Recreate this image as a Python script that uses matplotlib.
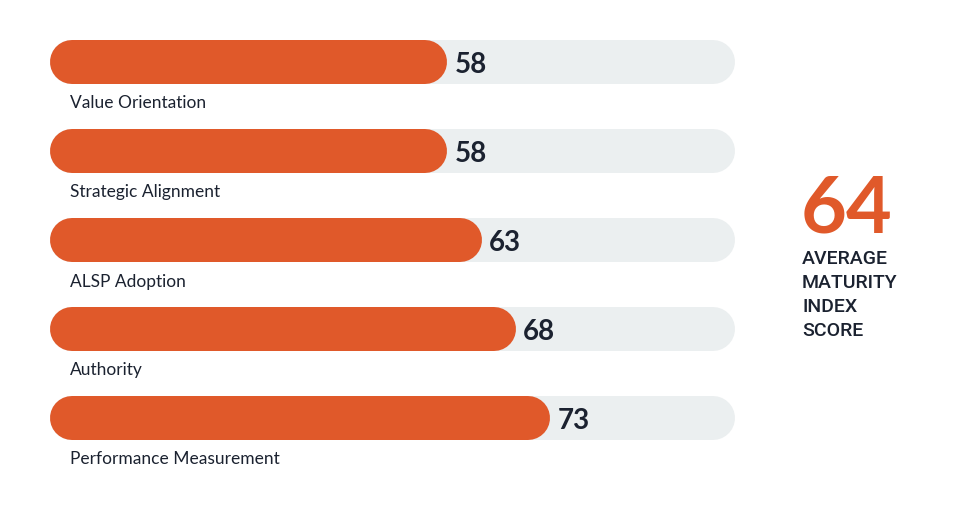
import matplotlib
matplotlib.use("Agg")
import matplotlib.pyplot as plt

# ===============================
# Data
# ===============================
categories = ["Value Orientation", "Strategic Alignment", "ALSP Adoption",
              "Authority", "Performance Measurement"]
scores = [58, 58, 63, 68, 73]
average_score = 64
average_lines = ["AVERAGE", "MATURITY", "INDEX", "SCORE"]

ORANGE = "#E0592A"
TRACK = "#EBEFF0"
DARK = "#1B2230"

plt.rcParams['font.family'] = ['Lato', 'DejaVu Sans']

# ===============================
# Figure / axes
# ===============================
W, H = 960, 510
fig = plt.figure(figsize=(W / 100, H / 100), dpi=100)
ax = fig.add_axes([50 / W, 0, 685 / W, 1])
ax.set_xlim(0, 100)
row_px = 89
first_px = 62.5
ax.set_ylim((H - first_px) / row_px, -first_px / row_px)
ax.axis("off")

bar_px = 44
lw = bar_px * 72 / 100           # line width in points
r = (bar_px / 2) / 685 * 100     # round cap radius in data units

for i, (cat, val) in enumerate(zip(categories, scores)):
    ax.plot([r, 100 - r], [i, i], color=TRACK, lw=lw,
            solid_capstyle="round", zorder=1)
    ax.plot([r, val - r], [i, i], color=ORANGE, lw=lw,
            solid_capstyle="round", zorder=2)
    ax.text(val + 1.1, i + 0.03, str(val), ha="left", va="center",
            fontsize=20, fontweight="bold", color=DARK, zorder=3)
    ax.text(2.9, i + 41 / row_px, cat, ha="left", va="center",
            fontsize=12.5, color=DARK)

# average callout
fig.text(801 / W, 1 - 233 / H, str(average_score), ha="left",
         va="baseline", fontsize=57, fontweight="bold", color=ORANGE)
for k, line in enumerate(average_lines):
    fig.text(802 / W, 1 - (264 + 24 * k) / H, line, ha="left",
             va="baseline", fontsize=14, color=DARK, fontweight="medium",
             family=['Roboto', 'DejaVu Sans'])

fig.savefig("out.png", dpi=100, facecolor="white")
